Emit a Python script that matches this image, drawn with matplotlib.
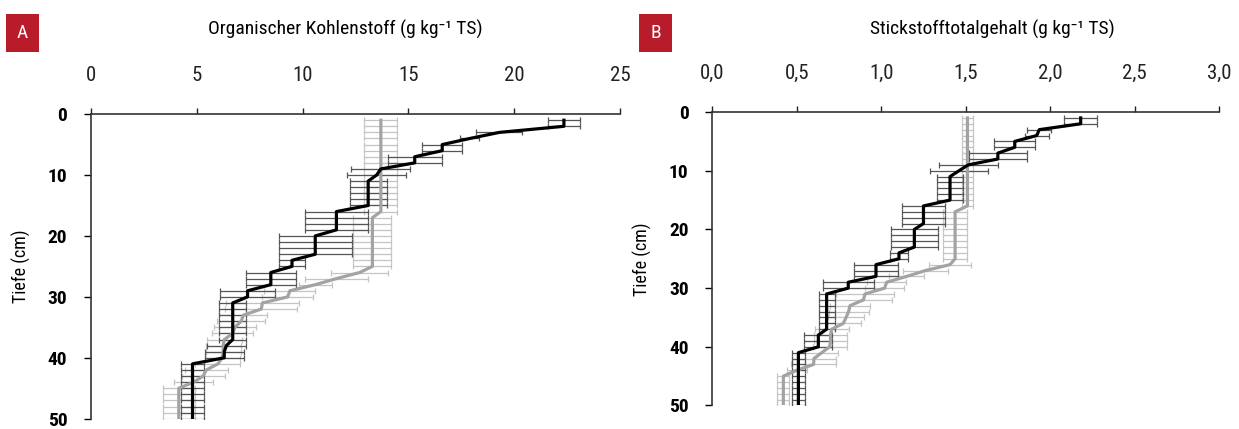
import numpy as np
import matplotlib
matplotlib.use("Agg")
import matplotlib.pyplot as plt
from matplotlib.patches import Rectangle

plt.rcParams['font.family'] = ['Roboto Condensed', 'DejaVu Sans Condensed', 'Roboto', 'DejaVu Sans']

# Tiefe in cm (1 cm Schritte)
depth = list(range(1, 51))

# --- A: organischer Kohlenstoff (g/kg TS) ---
c_black = [22.35, 22.35, 19.3, 17.9, 16.6, 16.6, 15.3, 15.3, 13.7, 13.5,
           13.1, 13.1, 13.1, 13.1, 13.1, 11.6, 11.6, 11.6, 11.6, 10.6,
           10.6, 10.6, 10.6, 9.5, 9.5, 8.5, 8.5, 8.5, 7.4, 7.4,
           6.7, 6.7, 6.7, 6.7, 6.7, 6.7, 6.7, 6.4, 6.3, 6.3,
           4.8, 4.8, 4.8, 4.8, 4.8, 4.8, 4.8, 4.8, 4.8, 4.8]
c_black_err = [0.77, 0.77, 1.09, 0.45, 0.95, 0.95, 1.27, 1.27, 1.39, 1.39,
               0.87, 0.87, 0.87, 0.87, 0.87, 1.48, 1.48, 1.48, 1.48, 1.72,
               1.72, 1.72, 1.72, 0.63, 0.63, 1.17, 1.17, 1.17, 1.32, 1.32,
               0.64, 0.64, 0.64, 0.64, 0.64, 0.64, 0.64, 0.91, 0.91, 0.91,
               0.54, 0.54, 0.54, 0.54, 0.54, 0.54, 0.54, 0.54, 0.54, 0.54]
c_grey = [13.7, 13.7, 13.7, 13.7, 13.7, 13.7, 13.7, 13.7, 13.7, 13.7,
          13.7, 13.7, 13.7, 13.7, 13.7, 13.7, 13.3, 13.3, 13.3, 13.3,
          13.3, 13.3, 13.3, 13.3, 13.3, 12.7, 11.6, 10.6, 9.4, 9.3,
          8.1, 8.05, 7.2, 7.1, 6.8, 6.7, 6.3, 6.25, 6.25, 6.2,
          6.0, 5.45, 5.3, 4.85, 4.15, 4.15, 4.15, 4.15, 4.15, 4.15]
c_grey_err = [0.78, 0.78, 0.78, 0.78, 0.78, 0.78, 0.78, 0.78, 0.78, 0.78,
              0.78, 0.78, 0.78, 0.78, 0.78, 0.78, 0.9, 0.9, 0.9, 0.9,
              0.9, 0.9, 0.9, 0.9, 0.9, 1.35, 1.47, 0.79, 1.2, 1.2,
              1.71, 1.71, 1.14, 1.14, 0.98, 0.98, 0.83, 0.83, 0.83, 0.83,
              1.06, 1.02, 1.02, 0.93, 0.75, 0.75, 0.75, 0.75, 0.75, 0.75]

# --- B: Stickstofftotalgehalt (g/kg TS) ---
n_black = [2.18, 2.18, 1.935, 1.92, 1.79, 1.79, 1.69, 1.69, 1.515, 1.46,
           1.407, 1.407, 1.407, 1.407, 1.407, 1.25, 1.25, 1.25, 1.25, 1.196,
           1.196, 1.196, 1.196, 1.105, 1.105, 0.969, 0.969, 0.969, 0.805, 0.805,
           0.677, 0.677, 0.677, 0.677, 0.677, 0.677, 0.677, 0.628, 0.628, 0.628,
           0.51, 0.51, 0.51, 0.51, 0.51, 0.51, 0.51, 0.51, 0.51, 0.51]
n_black_err = [0.099, 0.099, 0.071, 0.071, 0.122, 0.122, 0.17, 0.17, 0.173, 0.173,
               0.076, 0.076, 0.076, 0.076, 0.076, 0.125, 0.125, 0.125, 0.125, 0.139,
               0.139, 0.139, 0.139, 0.052, 0.052, 0.131, 0.131, 0.131, 0.152, 0.152,
               0.047, 0.047, 0.047, 0.047, 0.047, 0.047, 0.047, 0.083, 0.083, 0.083,
               0.037, 0.037, 0.037, 0.037, 0.037, 0.037, 0.037, 0.037, 0.037, 0.037]
n_grey = [1.51, 1.51, 1.51, 1.51, 1.51, 1.51, 1.51, 1.51, 1.51, 1.51,
          1.51, 1.51, 1.51, 1.51, 1.51, 1.51, 1.437, 1.437, 1.437, 1.437,
          1.437, 1.437, 1.437, 1.437, 1.437, 1.407, 1.263, 1.151, 1.032, 1.02,
          0.904, 0.895, 0.815, 0.807, 0.792, 0.776, 0.707, 0.7, 0.7, 0.695,
          0.648, 0.602, 0.6, 0.5, 0.421, 0.421, 0.421, 0.421, 0.421, 0.421]
n_grey_err = [0.034, 0.034, 0.034, 0.034, 0.034, 0.034, 0.034, 0.034, 0.034, 0.034,
              0.034, 0.034, 0.034, 0.034, 0.034, 0.034, 0.07, 0.07, 0.07, 0.07,
              0.07, 0.07, 0.07, 0.07, 0.07, 0.123, 0.133, 0.105, 0.115, 0.115,
              0.171, 0.171, 0.118, 0.118, 0.107, 0.107, 0.1, 0.1, 0.1, 0.1,
              0.097, 0.132, 0.132, 0.06, 0.036, 0.036, 0.036, 0.036, 0.036, 0.036]

a_ticks = [0, 5, 10, 15, 20, 25]
a_ticklabels = ['0', '5', '10', '15', '20', '25']
b_ticks = [0, 0.5, 1.0, 1.5, 2.0, 2.5, 3.0]
b_ticklabels = ['0,0', '0,5', '1,0', '1,5', '2,0', '2,5', '3,0']
y_ticks = [0, 10, 20, 30, 40, 50]

fig = plt.figure(figsize=(12.39, 4.29), dpi=100)
axA = fig.add_axes([0.0734, 0.024, 0.427, 0.71])
axB = fig.add_axes([0.5748, 0.0548, 0.4093, 0.684])


def draw_panel(ax, xb, eb, xg, eg, ticks, ticklabels, xmax):
    ax.errorbar(xg, depth, xerr=eg, fmt='none', ecolor='#c4c4c4',
                elinewidth=0.9, capsize=2, capthick=0.9, zorder=1)
    ax.errorbar(xb, depth, xerr=eb, fmt='none', ecolor='#555555',
                elinewidth=0.9, capsize=2, capthick=0.9, zorder=2)
    ax.plot(xg, depth, color='#a3a3a3', lw=2.3, zorder=3)
    ax.plot(xb, depth, color='black', lw=2.3, zorder=4)

    ax.set_xlim(0, xmax)
    ax.set_ylim(50, 0)
    ax.xaxis.tick_top()
    ax.set_xticks(ticks)
    ax.set_xticklabels(ticklabels)
    ax.set_yticks(y_ticks)
    ax.tick_params(axis='x', direction='out', length=4, width=1, pad=17,
                   labelsize=15, colors='#222222')
    ax.tick_params(axis='y', direction='out', length=5, width=1, pad=12,
                   labelsize=14)
    for t in ax.get_yticklabels():
        t.set_fontweight('bold')
    ax.spines['right'].set_visible(False)
    ax.spines['bottom'].set_visible(False)
    for s in ['top', 'left']:
        ax.spines[s].set_linewidth(1.2)
        ax.spines[s].set_color('#333333')
    ax.set_ylabel('Tiefe (cm)', fontsize=13, labelpad=12)


draw_panel(axA, c_black, c_black_err, c_grey, c_grey_err, a_ticks, a_ticklabels, 25)
draw_panel(axB, n_black, n_black_err, n_grey, n_grey_err, b_ticks, b_ticklabels, 3.0)

# Titel
fig.text(0.2785, 0.932, 'Organischer Kohlenstoff (g kg\u207b\u00b9 TS)',
         ha='center', va='center', fontsize=14)
fig.text(0.8006, 0.932, 'Stickstofftotalgehalt (g kg\u207b\u00b9 TS)',
         ha='center', va='center', fontsize=14)

# rote Kaestchen A / B
for x0, letter in [(6, 'A'), (639, 'B')]:
    fig.patches.append(Rectangle((x0 / 1239, 1 - 52 / 429), 33 / 1239, 38 / 429,
                                 transform=fig.transFigure, facecolor='#b81c2b',
                                 edgecolor='none'))
    fig.text((x0 + 16.5) / 1239, 1 - 33 / 429, letter, color='white',
             ha='center', va='center', fontsize=14)

fig.savefig('out.png', dpi=100)
